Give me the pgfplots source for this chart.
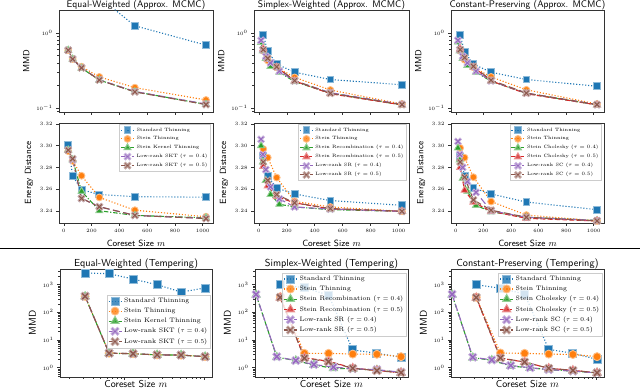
\documentclass[border=0pt]{standalone}
\usepackage{pgfplots}
\pgfplotsset{compat=1.18}

\definecolor{tabblue}{HTML}{1F77B4}
\definecolor{taborange}{HTML}{FF7F0E}
\definecolor{tabgreen}{HTML}{2CA02C}
\definecolor{tabred}{HTML}{D62728}
\definecolor{tabpurple}{HTML}{9467BD}
\definecolor{tabbrown}{HTML}{8C564B}

% filled X marker (matplotlib "X")
\pgfdeclareplotmark{Xf}{%
  \pgftransformrotate{45}%
  \pgfpathmoveto{\pgfqpoint{0.3\pgfplotmarksize}{1.15\pgfplotmarksize}}%
  \pgfpathlineto{\pgfqpoint{0.3\pgfplotmarksize}{0.3\pgfplotmarksize}}%
  \pgfpathlineto{\pgfqpoint{1.15\pgfplotmarksize}{0.3\pgfplotmarksize}}%
  \pgfpathlineto{\pgfqpoint{1.15\pgfplotmarksize}{-0.3\pgfplotmarksize}}%
  \pgfpathlineto{\pgfqpoint{0.3\pgfplotmarksize}{-0.3\pgfplotmarksize}}%
  \pgfpathlineto{\pgfqpoint{0.3\pgfplotmarksize}{-1.15\pgfplotmarksize}}%
  \pgfpathlineto{\pgfqpoint{-0.3\pgfplotmarksize}{-1.15\pgfplotmarksize}}%
  \pgfpathlineto{\pgfqpoint{-0.3\pgfplotmarksize}{-0.3\pgfplotmarksize}}%
  \pgfpathlineto{\pgfqpoint{-1.15\pgfplotmarksize}{-0.3\pgfplotmarksize}}%
  \pgfpathlineto{\pgfqpoint{-1.15\pgfplotmarksize}{0.3\pgfplotmarksize}}%
  \pgfpathlineto{\pgfqpoint{-0.3\pgfplotmarksize}{0.3\pgfplotmarksize}}%
  \pgfpathlineto{\pgfqpoint{-0.3\pgfplotmarksize}{1.15\pgfplotmarksize}}%
  \pgfpathclose
  \pgfusepathqfillstroke
}

\tikzset{ttl/.style={font=\sffamily\fontsize{9.6}{11}\selectfont, anchor=base, inner sep=0pt}}

\pgfplotsset{
  panelbase/.style={scale only axis, anchor=south west, tick align=outside, tick pos=left,
    axis line style={black!80, line width=0.6pt},
    every tick/.style={black!80, line width=0.5pt},
    major tick length=3pt, minor tick length=1.7pt,
    tick label style={font=\fontsize{5.5}{6}\selectfont},
    /pgf/number format/1000 sep={},
    label style={font=\sffamily\fontsize{9}{11}\selectfont},
    legend cell align=left,
    legend image code/.code={\draw[mark repeat=2,mark phase=2] plot coordinates {(0pt,0pt)(6.5pt,0pt)(13pt,0pt)};},
    legend style={draw=black!20, fill=white, fill opacity=0.8, text opacity=1, draw opacity=1,
      inner sep=1pt, at={(0.985,0.985)}, anchor=north east},
    every axis plot/.append style={line width=1.1pt}},
  toprowpanel/.style={panelbase, width=154pt, xmin=-34.4, xmax=1074.4, xtick={0,200,400,600,800,1000},
    every axis plot/.append style={mark size=3.4pt},
    legend style={font=\fontsize{4.7}{5.6}\selectfont}},
  mmdpanel/.style={toprowpanel, height=102pt, ymin=0.0885, ymax=2.03, xticklabels={}, ylabel={MMD}},
  enpanel/.style={toprowpanel, height=100pt, ymin=3.2287, ymax=3.321, ytick={3.24,3.26,3.28,3.30,3.32},
    yticklabel style={/pgf/number format/.cd, fixed, fixed zerofill, precision=2},
    ylabel={Energy Distance}, xlabel={Coreset Size $m$}},
  botpanel/.style={panelbase, width=153pt, height=108pt, xmin=15.5, xmax=1250,
    ymin=0.46, ymax=3700, xticklabels={}, ylabel={MMD},
    label style={font=\sffamily\fontsize{10}{12}\selectfont},
    every axis plot/.append style={mark size=4pt},
    legend style={font=\fontsize{6.4}{7.5}\selectfont, at={(0.99,0.965)}}},
  pST/.style={color=tabblue, dash pattern=on 1.1pt off 1.9pt, mark=square*,
    mark options={solid, fill=tabblue, draw=tabblue!50!white, line width=0.9pt}},
  pSN/.style={color=taborange, dash pattern=on 1.1pt off 1.9pt, mark=*,
    mark options={solid, fill=taborange, draw=taborange!50!white, line width=0.9pt}},
  pG/.style={color=tabgreen, dash pattern=on 4.5pt off 1.8pt on 1.2pt off 1.8pt, mark=triangle*,
    mark options={solid, fill=tabgreen, draw=tabgreen!50!white, line width=0.9pt, scale=1.2}},
  pR/.style={color=tabred, dash pattern=on 5pt off 2.2pt, mark=triangle*,
    mark options={solid, fill=tabred, draw=tabred!50!white, line width=0.9pt, scale=1.2}},
  pP/.style={color=tabpurple, dash pattern=on 7pt off 3.5pt, mark=Xf,
    mark options={solid, fill=tabpurple, draw=tabpurple!50!white, line width=0.7pt}},
  pB/.style={color=tabbrown, dash pattern=on 7pt off 3.5pt, mark=Xf,
    mark options={solid, fill=tabbrown, draw=tabbrown!50!white, line width=0.7pt}},
}

\begin{document}
\begin{tikzpicture}
\useasboundingbox (0pt,0pt) rectangle (640pt,390pt);
\draw[black, line width=0.8pt] (0pt,142pt) -- (640pt,142pt);

% ---------------- top row: MMD (Approx. MCMC) ----------------
\begin{axis}[ymode=log, mmdpanel, at={(59pt,278pt)}]
\addplot[pST] coordinates {(32,7.0)(64,5.2)(128,3.9)(256,3.0)(512,1.25)(1024,0.69)};
\addplot[pSN] coordinates {(32,0.59)(64,0.45)(128,0.356)(256,0.26)(512,0.187)(1024,0.128)};
\addplot[pG] coordinates {(32,0.59)(64,0.45)(128,0.34)(256,0.236)(512,0.165)(1024,0.112)};
\addplot[pP] coordinates {(32,0.59)(64,0.45)(128,0.345)(256,0.238)(512,0.166)(1024,0.113)};
\addplot[pB] coordinates {(32,0.59)(64,0.45)(128,0.343)(256,0.236)(512,0.164)(1024,0.111)};
\end{axis}
\node[ttl] at (136pt,382pt) {Equal-Weighted (Approx. MCMC)};

\begin{axis}[ymode=log, mmdpanel, at={(254pt,278pt)}, width=155pt]
\addplot[pST] coordinates {(32,0.94)(64,0.57)(128,0.386)(256,0.30)(512,0.24)(1024,0.204)};
\addplot[pSN] coordinates {(32,0.58)(64,0.43)(128,0.35)(256,0.256)(512,0.174)(1024,0.113)};
\addplot[pG] coordinates {(16,0.75)(29,0.58)(50,0.46)(84,0.36)(147,0.30)(256,0.225)(512,0.158)(1024,0.11)};
\addplot[pR] coordinates {(32,0.62)(64,0.45)(128,0.35)(256,0.23)(512,0.155)(1024,0.11)};
\addplot[pP] coordinates {(16,0.80)(29,0.60)(50,0.49)(84,0.40)(147,0.31)(256,0.23)(512,0.16)(1024,0.112)};
\addplot[pB] coordinates {(32,0.60)(64,0.46)(128,0.355)(256,0.232)(512,0.157)(1024,0.111)};
\end{axis}
\node[ttl] at (331.5pt,382pt) {Simplex-Weighted (Approx. MCMC)};

\begin{axis}[ymode=log, mmdpanel, at={(451pt,278pt)}, width=153pt]
\addplot[pST] coordinates {(32,0.94)(64,0.56)(128,0.385)(256,0.30)(512,0.24)(1024,0.195)};
\addplot[pSN] coordinates {(32,0.58)(64,0.44)(128,0.35)(256,0.26)(512,0.175)(1024,0.113)};
\addplot[pG] coordinates {(16,0.76)(29,0.58)(50,0.46)(84,0.37)(147,0.30)(256,0.228)(512,0.157)(1024,0.11)};
\addplot[pR] coordinates {(32,0.62)(64,0.46)(128,0.35)(256,0.23)(512,0.155)(1024,0.11)};
\addplot[pP] coordinates {(16,0.80)(29,0.60)(50,0.49)(84,0.40)(147,0.31)(256,0.23)(512,0.158)(1024,0.111)};
\addplot[pB] coordinates {(32,0.60)(64,0.47)(128,0.36)(256,0.235)(512,0.158)(1024,0.111)};
\end{axis}
\node[ttl] at (527.5pt,382pt) {Constant-Preserving (Approx. MCMC)};

% ---------------- top row: Energy distance ----------------
\begin{axis}[enpanel, at={(59pt,167pt)}]
\addplot[pST] coordinates {(32,3.3006)(64,3.272)(128,3.2594)(256,3.255)(512,3.253)(1024,3.2525)};
\addlegendentry{Standard Thinning}
\addplot[pSN] coordinates {(32,3.295)(64,3.286)(128,3.2723)(256,3.2523)(512,3.2405)(1024,3.2345)};
\addlegendentry{Stein Thinning}
\addplot[pG] coordinates {(32,3.296)(64,3.287)(128,3.258)(256,3.240)(512,3.2357)(1024,3.2335)};
\addlegendentry{Stein Kernel Thinning}
\addplot[pP] coordinates {(32,3.296)(64,3.287)(128,3.2514)(256,3.2437)(512,3.2357)(1024,3.233)};
\addlegendentry{Low-rank SKT ($\tau = 0.4$)}
\addplot[pB] coordinates {(32,3.296)(64,3.288)(128,3.2514)(256,3.2437)(512,3.2357)(1024,3.2328)};
\addlegendentry{Low-rank SKT ($\tau = 0.5$)}
\end{axis}

\begin{axis}[enpanel, at={(254pt,167pt)}, width=155pt]
\addplot[pST] coordinates {(32,3.291)(64,3.272)(128,3.261)(256,3.2555)(512,3.2494)(1024,3.245)};
\addlegendentry{Standard Thinning}
\addplot[pSN] coordinates {(32,3.297)(64,3.289)(128,3.2706)(256,3.2487)(512,3.2435)(1024,3.2395)};
\addlegendentry{Stein Thinning}
\addplot[pG] coordinates {(16,3.300)(29,3.285)(50,3.268)(84,3.255)(147,3.246)(256,3.2435)(512,3.241)(1024,3.2395)};
\addlegendentry{Stein Recombination ($\tau = 0.4$)}
\addplot[pR] coordinates {(32,3.281)(64,3.263)(128,3.253)(256,3.2473)(512,3.2418)(1024,3.2395)};
\addlegendentry{Stein Recombination ($\tau = 0.5$)}
\addplot[pP] coordinates {(16,3.306)(29,3.292)(50,3.278)(84,3.262)(147,3.251)(256,3.2435)(512,3.2415)(1024,3.2395)};
\addlegendentry{Low-rank SR ($\tau = 0.4$)}
\addplot[pB] coordinates {(32,3.285)(64,3.268)(128,3.255)(256,3.2473)(512,3.242)(1024,3.2395)};
\addlegendentry{Low-rank SR ($\tau = 0.5$)}
\end{axis}

\begin{axis}[enpanel, at={(451pt,167pt)}, width=153pt]
\addplot[pST] coordinates {(32,3.290)(64,3.272)(128,3.261)(256,3.2555)(512,3.248)(1024,3.241)};
\addlegendentry{Standard Thinning}
\addplot[pSN] coordinates {(32,3.298)(64,3.289)(128,3.271)(256,3.2485)(512,3.236)(1024,3.2306)};
\addlegendentry{Stein Thinning}
\addplot[pG] coordinates {(16,3.298)(29,3.287)(50,3.270)(84,3.258)(147,3.245)(256,3.239)(512,3.234)(1024,3.231)};
\addlegendentry{Stein Cholesky ($\tau = 0.4$)}
\addplot[pR] coordinates {(32,3.280)(64,3.259)(128,3.248)(256,3.2395)(512,3.233)(1024,3.2306)};
\addlegendentry{Stein Cholesky ($\tau = 0.5$)}
\addplot[pP] coordinates {(16,3.304)(29,3.292)(50,3.280)(84,3.267)(147,3.257)(256,3.240)(512,3.234)(1024,3.231)};
\addlegendentry{Low-rank SC ($\tau = 0.4$)}
\addplot[pB] coordinates {(32,3.285)(64,3.271)(128,3.250)(256,3.2405)(512,3.234)(1024,3.2306)};
\addlegendentry{Low-rank SC ($\tau = 0.5$)}
\end{axis}

% ---------------- bottom row: Tempering ----------------
\begin{axis}[xmode=log, ymode=log, botpanel, at={(60pt,13pt)}, width=152pt,
  legend style={at={(0.99,0.76)}, anchor=north east}]
\addplot[pST] coordinates {(32,2650)(64,2500)(128,1600)(256,1000)(512,545)(1024,760)};
\addlegendentry{Standard Thinning}
\addplot[pSN] coordinates {(32,380)(64,3.35)(128,3.2)(256,2.9)(512,2.85)(1024,2.5)};
\addlegendentry{Stein Thinning}
\addplot[pG] coordinates {(32,375)(64,3.3)(128,3.2)(256,2.9)(512,2.85)(1024,2.5)};
\addlegendentry{Stein Kernel Thinning}
\addplot[pP] coordinates {(32,380)(64,3.35)(128,3.2)(256,2.9)(512,2.85)(1024,2.5)};
\addlegendentry{Low-rank SKT ($\tau = 0.4$)}
\addplot[pB] coordinates {(32,380)(64,3.35)(128,3.2)(256,2.9)(512,2.85)(1024,2.5)};
\addlegendentry{Low-rank SKT ($\tau = 0.5$)}
\end{axis}
\node[ttl, font=\sffamily\fontsize{10.2}{12}\selectfont] at (136pt,123.5pt) {Equal-Weighted (Tempering)};
\node[ttl, font=\sffamily\fontsize{10}{12}\selectfont] at (136pt,2.5pt) {Coreset Size $m$};

\begin{axis}[xmode=log, ymode=log, botpanel, at={(255pt,13pt)}]
\addplot[pST] coordinates {(32,1000)(64,775)(128,420)(256,4.4)(512,3.3)(1024,2.4)};
\addlegendentry{Standard Thinning}
\addplot[pSN] coordinates {(32,365)(64,3.3)(128,3.3)(256,3.1)(512,3.05)(1024,2.5)};
\addlegendentry{Stein Thinning}
\addplot[pG] coordinates {(16,430)(29,2.4)(50,1.8)(84,1.25)(147,0.95)(256,0.9)(512,0.82)(1024,0.66)};
\addlegendentry{Stein Recombination ($\tau = 0.4$)}
\addplot[pR] coordinates {(32,340)(64,2.3)(128,1.7)(256,0.97)(512,0.79)(1024,0.66)};
\addlegendentry{Stein Recombination ($\tau = 0.5$)}
\addplot[pP] coordinates {(16,445)(29,2.5)(50,1.8)(84,1.3)(147,1.05)(256,0.92)(512,0.85)(1024,0.68)};
\addlegendentry{Low-rank SR ($\tau = 0.4$)}
\addplot[pB] coordinates {(32,350)(64,2.2)(128,1.65)(256,0.95)(512,0.78)(1024,0.66)};
\addlegendentry{Low-rank SR ($\tau = 0.5$)}
\end{axis}
\node[ttl, font=\sffamily\fontsize{10.2}{12}\selectfont] at (331.5pt,123.5pt) {Simplex-Weighted (Tempering)};
\node[ttl, font=\sffamily\fontsize{10}{12}\selectfont] at (331.5pt,2.5pt) {Coreset Size $m$};

\begin{axis}[xmode=log, ymode=log, botpanel, at={(451pt,13pt)}]
\addplot[pST] coordinates {(32,1000)(64,740)(128,460)(256,4.6)(512,3.3)(1024,2.0)};
\addlegendentry{Standard Thinning}
\addplot[pSN] coordinates {(32,350)(64,3.4)(128,3.3)(256,3.1)(512,3.0)(1024,2.5)};
\addlegendentry{Stein Thinning}
\addplot[pG] coordinates {(16,430)(29,2.3)(50,1.85)(86,1.15)(150,0.98)(256,0.85)(512,0.75)(1024,0.65)};
\addlegendentry{Stein Cholesky ($\tau = 0.4$)}
\addplot[pR] coordinates {(32,340)(64,2.2)(128,1.6)(256,0.95)(512,0.8)(1024,0.65)};
\addlegendentry{Stein Cholesky ($\tau = 0.5$)}
\addplot[pP] coordinates {(16,450)(29,2.4)(50,1.9)(86,1.2)(150,1.0)(256,0.85)(512,0.75)(1024,0.65)};
\addlegendentry{Low-rank SC ($\tau = 0.4$)}
\addplot[pB] coordinates {(32,345)(64,2.25)(128,1.6)(256,0.95)(512,0.8)(1024,0.65)};
\addlegendentry{Low-rank SC ($\tau = 0.5$)}
\end{axis}
\node[ttl, font=\sffamily\fontsize{10.2}{12}\selectfont] at (527.5pt,123.5pt) {Constant-Preserving (Tempering)};
\node[ttl, font=\sffamily\fontsize{10}{12}\selectfont] at (527.5pt,2.5pt) {Coreset Size $m$};
\end{tikzpicture}
\end{document}
